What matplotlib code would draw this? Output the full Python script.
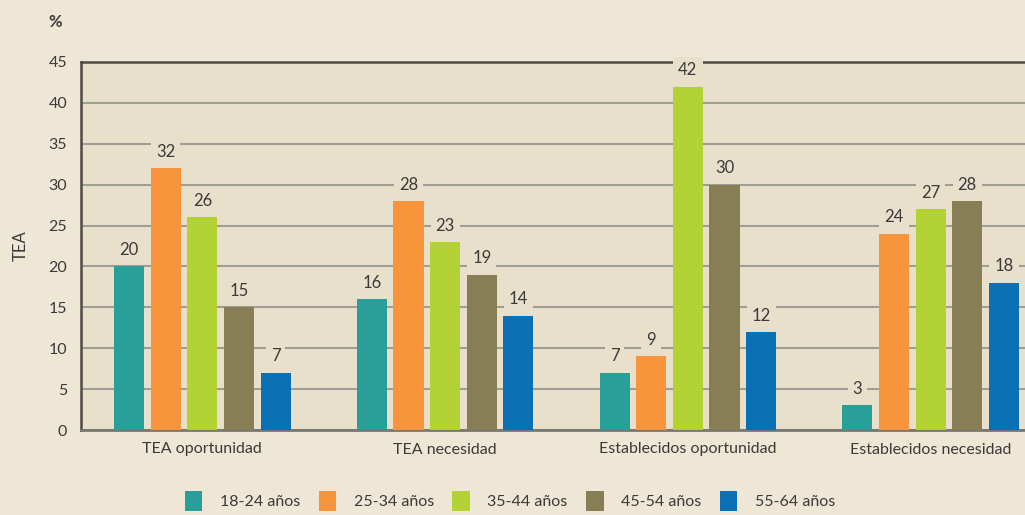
import matplotlib
matplotlib.use("Agg")
import matplotlib.pyplot as plt
import numpy as np

plt.rcParams['font.family'] = ['Lato', 'DejaVu Sans']

categories = ["TEA oportunidad", "TEA necesidad", "Establecidos oportunidad", "Establecidos necesidad"]
series_names = ["18-24 años", "25-34 años", "35-44 años", "45-54 años", "55-64 años"]
age_18_24 = [20, 16, 7, 3]
age_25_34 = [32, 28, 9, 24]
age_35_44 = [26, 23, 42, 27]
age_45_54 = [15, 19, 30, 28]
age_55_64 = [7, 14, 12, 18]
y_ticks = [0, 5, 10, 15, 20, 25, 30, 35, 40, 45]

series = [age_18_24, age_25_34, age_35_44, age_45_54, age_55_64]
colors = ["#2A9E98", "#F7943C", "#B3D334", "#877E55", "#0870B3"]

fig_bg = "#EFE7D6"
ax_bg = "#E8E0CA"
text_c = "#3A3A3A"

fig = plt.figure(figsize=(10.25, 5.15), dpi=100, facecolor=fig_bg)
ax = fig.add_axes([81 / 1025, 1 - 430 / 515, 971 / 1025, 368 / 515])
ax.set_facecolor(ax_bg)

x = np.arange(len(categories))
width = 0.124
step = 0.151
for i, (vals, name, col) in enumerate(zip(series, series_names, colors)):
    pos = x + (i - 2) * step
    bars = ax.bar(pos, vals, width, color=col, label=name, zorder=3)
    for b, v in zip(bars, vals):
        ax.annotate(f"{v}", (b.get_x() + b.get_width() / 2, v),
                    xytext=(0, 6), textcoords="offset points",
                    ha="center", va="bottom", fontsize=12, color=text_c,
                    zorder=4,
                    bbox=dict(boxstyle="square,pad=0.3", fc=ax_bg, ec="none"))

ax.set_xlim(-0.5, 3.5)
ax.set_ylim(0, 45)
ax.set_yticks(y_ticks)
ax.yaxis.grid(True, color="#A09D96", linewidth=1.5, zorder=0)
ax.set_axisbelow(True)
ax.set_xticks(x)
ax.set_xticklabels(categories)
ax.tick_params(axis="both", length=0, labelsize=11.5, colors=text_c)
ax.tick_params(axis="x", pad=9)
ax.tick_params(axis="y", pad=10)

for s in ["left", "top"]:
    ax.spines[s].set_color("#4E4A44")
    ax.spines[s].set_linewidth(1.8)
ax.spines["bottom"].set_color("#7A7670")
ax.spines["bottom"].set_linewidth(2)
ax.spines["right"].set_visible(False)

ax.set_ylabel("TEA", fontsize=12, color=text_c, labelpad=14)
fig.text(55 / 1025, 1 - 22 / 515, "%", fontsize=12, fontweight="bold",
         color=text_c, ha="center", va="center")

fig.legend(loc="center", bbox_to_anchor=(510 / 1025, 1 - 501 / 515), ncol=5,
           frameon=False, fontsize=11.5, handlelength=1.1, handleheight=1.6,
           columnspacing=1.15, handletextpad=1.1, labelcolor=text_c)

fig.savefig("out.png", dpi=100, facecolor=fig_bg)
